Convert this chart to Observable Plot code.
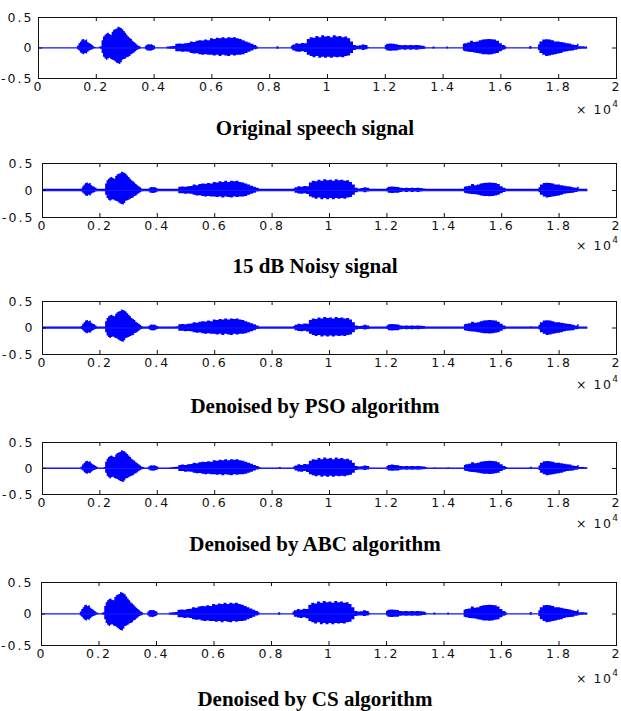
<!DOCTYPE html>
<html><head><meta charset="utf-8">
<script src="https://cdn.jsdelivr.net/npm/d3@7"></script>
<script src="https://cdn.jsdelivr.net/npm/@observablehq/plot@0.6"></script>
<style>
body{margin:0;background:#fff;}
#root{position:relative;width:621px;height:711px;overflow:hidden;background:#fff;}
.panel{position:absolute;left:0;}
.title{position:absolute;left:0;width:630px;text-align:center;line-height:22px;font-family:"Liberation Serif","Times New Roman",serif;font-weight:bold;font-size:21px;color:#000;white-space:nowrap;}
.exp{position:absolute;font-family:"DejaVu Sans",sans-serif;font-size:12.5px;letter-spacing:1.5px;color:#111;line-height:14px;white-space:nowrap;}
.exp sup{font-size:9px;position:relative;top:-2px;}
</style></head><body><div id="root"></div>
<script>
// ---- data ----
const panelTitles = ["Original speech signal", "15 dB Noisy signal", "Denoised by PSO algorithm", "Denoised by ABC algorithm", "Denoised by CS algorithm"];
const noiseFloor = [0, 0.024, 0.02, 0.01, 0.005];
const signalLength = 19000;
const xTicks = [0, 2000, 4000, 6000, 8000, 10000, 12000, 14000, 16000, 18000, 20000];
const yTicks = [-0.5, 0, 0.5];
const xExponent = "4";
// envelope of the waveform: [sample index, upper value, lower value]
const envelope = [
  [0, 0.004, -0.004],
  [1350, 0.03, -0.03], [1400, 0.07, -0.05], [1450, 0.10, -0.08], [1500, 0.13, -0.10],
  [1550, 0.14, -0.11], [1600, 0.12, -0.09], [1650, 0.13, -0.10], [1700, 0.09, -0.07],
  [1750, 0.07, -0.05], [1800, 0.06, -0.04], [1850, 0.04, -0.03], [1900, 0.02, -0.015],
  [1950, 0.01, -0.01], [2000, 0.004, -0.004], [2100, 0.012, -0.01], [2150, 0.02, -0.02],
  [2200, 0.12, -0.09], [2250, 0.18, -0.15], [2300, 0.21, -0.18], [2350, 0.23, -0.20],
  [2400, 0.24, -0.18], [2450, 0.22, -0.17], [2500, 0.21, -0.19], [2550, 0.26, -0.20],
  [2600, 0.29, -0.21], [2650, 0.30, -0.23], [2700, 0.31, -0.25], [2750, 0.34, -0.26],
  [2800, 0.33, -0.27], [2850, 0.32, -0.24], [2900, 0.30, -0.20], [2950, 0.27, -0.19],
  [3000, 0.24, -0.18], [3050, 0.21, -0.16], [3100, 0.18, -0.15], [3150, 0.16, -0.14],
  [3200, 0.14, -0.11], [3250, 0.11, -0.10], [3300, 0.09, -0.08], [3350, 0.07, -0.06],
  [3400, 0.05, -0.04], [3450, 0.03, -0.03], [3500, 0.02, -0.02], [3550, 0.004, -0.004],
  [3700, 0.03, -0.03], [3750, 0.05, -0.05], [3800, 0.055, -0.05], [3850, 0.05, -0.055],
  [3900, 0.055, -0.05], [3950, 0.04, -0.04], [4000, 0.03, -0.03], [4050, 0.004, -0.004],
  [4450, 0.015, -0.015], [4550, 0.02, -0.02], [4650, 0.025, -0.02], [4750, 0.06, -0.06],
  [4850, 0.065, -0.06], [4950, 0.06, -0.07], [5050, 0.07, -0.065], [5150, 0.075, -0.07],
  [5250, 0.10, -0.09], [5350, 0.09, -0.10], [5450, 0.11, -0.095], [5550, 0.12, -0.11],
  [5650, 0.115, -0.12], [5750, 0.13, -0.11], [5850, 0.12, -0.12], [5950, 0.15, -0.12],
  [6050, 0.14, -0.13], [6150, 0.16, -0.12], [6250, 0.15, -0.14], [6350, 0.17, -0.12],
  [6450, 0.15, -0.13], [6550, 0.17, -0.14], [6650, 0.16, -0.12], [6750, 0.17, -0.13],
  [6850, 0.15, -0.12], [6950, 0.14, -0.12], [7050, 0.12, -0.11], [7150, 0.10, -0.09],
  [7250, 0.08, -0.07], [7350, 0.06, -0.05], [7450, 0.04, -0.03], [7550, 0.02, -0.02],
  [7600, 0.004, -0.004], [8250, 0.02, -0.02], [8320, 0.004, -0.004],
  [8750, 0.03, -0.02], [8800, 0.05, -0.05], [8900, 0.07, -0.065], [9000, 0.06, -0.07],
  [9100, 0.075, -0.06], [9200, 0.07, -0.075], [9300, 0.14, -0.12], [9400, 0.17, -0.14],
  [9500, 0.16, -0.16], [9600, 0.19, -0.14], [9700, 0.17, -0.17], [9800, 0.20, -0.15],
  [9900, 0.18, -0.17], [10000, 0.19, -0.15], [10100, 0.17, -0.17], [10200, 0.20, -0.15],
  [10300, 0.18, -0.16], [10400, 0.19, -0.15], [10500, 0.17, -0.16], [10600, 0.18, -0.14],
  [10700, 0.15, -0.13], [10800, 0.10, -0.09], [10900, 0.04, -0.04], [11000, 0.03, -0.03],
  [11100, 0.035, -0.03], [11200, 0.05, -0.04], [11300, 0.04, -0.03], [11400, 0.01, -0.01],
  [11450, 0.004, -0.004],
  [12000, 0.04, -0.03], [12050, 0.06, -0.05], [12150, 0.065, -0.055], [12250, 0.06, -0.05],
  [12350, 0.055, -0.05], [12450, 0.04, -0.035], [12550, 0.035, -0.03], [12650, 0.04, -0.035],
  [12750, 0.035, -0.03], [12850, 0.04, -0.035], [12950, 0.035, -0.03], [13050, 0.04, -0.035],
  [13150, 0.035, -0.03], [13250, 0.03, -0.025], [13350, 0.02, -0.02], [13400, 0.004, -0.004],
  [13650, 0.015, -0.015], [13720, 0.004, -0.004], [14130, 0.015, -0.015], [14190, 0.004, -0.004],
  [14700, 0.06, -0.05], [14750, 0.07, -0.06], [14850, 0.08, -0.07], [14950, 0.11, -0.075],
  [15050, 0.09, -0.08], [15150, 0.10, -0.09], [15250, 0.12, -0.10], [15350, 0.13, -0.11],
  [15450, 0.135, -0.11], [15550, 0.14, -0.115], [15650, 0.135, -0.11], [15750, 0.13, -0.10],
  [15850, 0.11, -0.09], [15950, 0.07, -0.06], [16050, 0.04, -0.035], [16150, 0.02, -0.02],
  [16200, 0.004, -0.004], [17000, 0.025, -0.02], [17070, 0.004, -0.004],
  [17300, 0.05, -0.04], [17350, 0.10, -0.09], [17450, 0.13, -0.12], [17550, 0.135, -0.14],
  [17650, 0.13, -0.13], [17750, 0.12, -0.12], [17850, 0.10, -0.11], [17950, 0.10, -0.10],
  [18050, 0.09, -0.09], [18150, 0.08, -0.07], [18250, 0.07, -0.06], [18350, 0.065, -0.055],
  [18450, 0.05, -0.05], [18550, 0.04, -0.035], [18650, 0.06, -0.03], [18700, 0.02, -0.02],
  [18800, 0.02, -0.015], [18900, 0.015, -0.015], [19000, 0.004, -0.004]
];

// ---- layout ----
const layout = [
  {L: 38, T: 17, B: 78, titleY: 128, expY: 107},
  {L: 42, T: 163, B: 217, titleY: 266, expY: 243},
  {L: 42, T: 301, B: 354, titleY: 406, expY: 382},
  {L: 42, T: 442, B: 494, titleY: 544, expY: 521},
  {L: 41, T: 582, B: 645, titleY: 699, expY: 676}
];
const R = 616, W = 621, mt = 12, mb = 24;
const root = document.getElementById("root");

panelTitles.forEach((title, i) => {
  const g = layout[i];
  const f = noiseFloor[i];
  const rows = envelope.map(([x, u, l]) => ({x, u: Math.max(u, f), l: Math.min(l, -f)}));
  const h = (g.B - g.T) + mt + mb;
  const svg = Plot.plot({
    width: W, height: h,
    marginTop: mt, marginBottom: mb, marginLeft: g.L, marginRight: W - R,
    x: {domain: [0, 20000]},
    y: {domain: [-0.5, 0.5]},
    style: {fontFamily: "DejaVu Sans, sans-serif", fontSize: "12.5px", color: "#111", background: "white", overflow: "visible", letterSpacing: "2px"},
    marks: [
      Plot.areaY(rows, {x: "x", y1: "l", y2: "u", fill: "#0000ff", curve: "step-after"}),
      Plot.ruleY([0], {x1: 0, x2: signalLength, stroke: "#1a1aff", strokeWidth: 1.2}),
      Plot.frame({stroke: "#111"}),
      Plot.ruleX(xTicks, {x: d => d, y1: -0.5, y2: -0.5, insetBottom: 4, stroke: "#111"}),
      Plot.ruleX(xTicks, {x: d => d, y1: 0.5, y2: 0.5, insetTop: 4, stroke: "#111"}),
      Plot.ruleY(yTicks, {y: d => d, x1: 0, x2: 0, insetRight: -4, stroke: "#111"}),
      Plot.ruleY(yTicks, {y: d => d, x1: 20000, x2: 20000, insetLeft: -4, stroke: "#111"}),
      Plot.axisX(xTicks, {anchor: "bottom", tickSize: 0, tickPadding: 4, tickFormat: d => String(d / 10000), label: null}),
      Plot.axisY(yTicks, {anchor: "left", tickSize: 0, tickPadding: i === 0 ? 5 : 8, tickFormat: d => String(d), label: null})
    ]
  });
  svg.classList.add("panel");
  svg.style.position = "absolute";
  svg.style.top = (g.T - mt) + "px";
  svg.style.left = "0px";
  root.appendChild(svg);

  const t = document.createElement("div");
  t.className = "title";
  t.style.top = (g.titleY - 11) + "px";
  t.textContent = title;
  root.appendChild(t);

  const e = document.createElement("div");
  e.className = "exp";
  e.style.left = "576px";
  e.style.top = (g.expY - 8) + "px";
  e.innerHTML = "× 10<sup>" + xExponent + "</sup>";
  root.appendChild(e);
});
</script></body></html>
